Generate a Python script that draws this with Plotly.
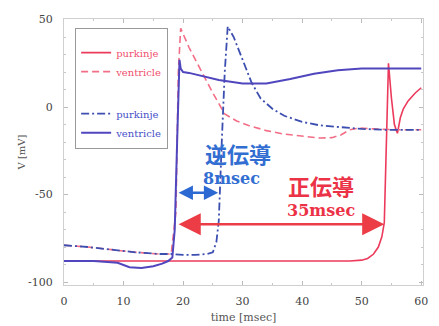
import plotly.graph_objects as go

# ---------------- data ----------------
# red group (anterograde)
rp_t = [0, 10, 20, 30, 40, 48, 50, 51, 52, 52.8, 53.4, 53.8, 54.0, 54.5, 55.0, 55.5, 56.0, 56.5, 57.0, 57.8, 59.0, 60]
rp_v = [-88, -88, -88, -88, -88, -88, -87.5, -86.5, -84, -80, -74, -66, -40, 25, 5, -10, -15, -6, -1, 3.5, 8, 11]

rv_t = [0, 4, 8, 12, 16, 18.0, 18.8, 19.2, 19.6, 21, 23, 25, 27, 29, 31, 34, 37, 40, 43, 45, 46.5, 48, 49.5, 52, 56, 60]
rv_v = [-79, -80, -81.5, -83, -84, -84, -60, 20, 45, 34, 21, 8, -4, -8, -10.5, -13.5, -15.5, -16.8, -17.7, -17.5, -16, -13, -12, -12.5, -13, -13]

# blue group (retrograde)
bp_t = [0, 4, 8, 12, 16, 18, 20, 22, 24, 25.0, 25.6, 26.0, 26.5, 27.0, 27.5, 28.5, 30, 31.5, 33, 35, 37, 40, 43, 46, 50, 54, 60]
bp_v = [-79, -80, -81.5, -83, -84, -84, -84.5, -84.5, -84, -83, -77, -65, -20, 20, 46, 40, 27, 14, 5, -1, -5, -8.5, -10.5, -11.5, -12.5, -13, -13]

bv_t = [0, 5, 9, 11, 13, 15, 16.5, 17.5, 18.2, 18.6, 19.0, 19.4, 19.6, 20, 21, 23, 26, 30, 34, 38, 42, 46, 50, 54, 60]
bv_v = [-88, -88, -89, -91.5, -92, -91, -89.5, -88, -86, -70, -20, 27, 22, 20, 19.5, 18, 15.5, 13.5, 13.5, 16, 19, 21, 22, 22, 22]

# conduction-time markers
retro_t = [19.0, 25.9]
retro_v = -49
antero_t = [19.0, 53.8]
antero_v = -67

x_ticks = [0, 10, 20, 30, 40, 50, 60]
y_ticks = [50, 0, -50, -100]
y_ticklabels = ["50", "0", "-50", "-100"]

RED = "rgb(236,58,92)"
PINK = "rgb(242,110,135)"
NAVY = "rgb(60,78,175)"
PURPLE = "rgb(80,70,190)"
BLUE_TXT = "rgb(50,110,210)"
RED_TXT = "rgb(236,50,70)"

fig = go.Figure()
fig.add_trace(go.Scatter(x=rp_t, y=rp_v, mode="lines", line=dict(color=RED, width=1.6),
                         name="<span style='color:rgb(240,80,110)'>purkinje</span>", legendgroup="a"))
fig.add_trace(go.Scatter(x=rv_t, y=rv_v, mode="lines", line=dict(color=PINK, width=1.6, dash="7px,4px"),
                         name="<span style='color:rgb(240,80,110)'>ventricle</span>", legendgroup="a"))
fig.add_trace(go.Scatter(x=bp_t, y=bp_v, mode="lines", line=dict(color=NAVY, width=1.8, dash="8px,3px,2px,3px"),
                         name="<span style='color:rgb(70,80,200)'>purkinje</span>", legendgroup="b"))
fig.add_trace(go.Scatter(x=bv_t, y=bv_v, mode="lines", line=dict(color=PURPLE, width=2),
                         name="<span style='color:rgb(70,80,200)'>ventricle</span>", legendgroup="b"))

# arrows
fig.add_annotation(x=retro_t[1], y=retro_v, ax=retro_t[0], ay=retro_v, axref="x", ayref="y",
                   xref="x", yref="y", text="", showarrow=True, arrowside="end+start",
                   arrowhead=2, arrowsize=1.1, arrowwidth=2.6, arrowcolor="rgb(45,105,210)", standoff=0, startstandoff=0)
fig.add_annotation(x=antero_t[1], y=antero_v, ax=antero_t[0], ay=antero_v, axref="x", ayref="y",
                   xref="x", yref="y", text="", showarrow=True, arrowside="end+start",
                   arrowhead=2, arrowsize=1.7, arrowwidth=2.6, arrowcolor="rgb(236,60,70)", standoff=0, startstandoff=0)

cjk = "Noto Sans CJK JP"
fig.add_annotation(x=29.3, y=-26.4, text="<b>逆伝導</b>", showarrow=False,
                   font=dict(family=cjk, size=22, color=BLUE_TXT))
fig.add_annotation(x=28.2, y=-40.8, text="<b>8msec</b>", showarrow=False,
                   font=dict(family="DejaVu Serif", size=16, color=BLUE_TXT))
fig.add_annotation(x=43.2, y=-44.3, text="<b>正伝導</b>", showarrow=False,
                   font=dict(family=cjk, size=22, color=RED_TXT))
fig.add_annotation(x=43.2, y=-59.2, text="<b>35msec</b>", showarrow=False,
                   font=dict(family="DejaVu Serif", size=16, color=RED_TXT))

axis_common = dict(showline=True, linecolor="#cfcfcf", linewidth=1, mirror="ticks",
                   ticks="inside", ticklen=4, tickcolor="#bbbbbb", showgrid=False, zeroline=False,
                   automargin=False,
                   tickfont=dict(family="DejaVu Serif", size=11, color="#444"),
                   minor=dict(ticks="inside", ticklen=2, tickcolor="#c8c8c8"))

fig.update_xaxes(range=[0, 60.3], tickvals=x_ticks, ticklabelstandoff=6,
                 title=dict(text="time [msec]", font=dict(family="DejaVu Serif", size=11, color="#555"), standoff=6),
                 **axis_common)
fig.update_yaxes(range=[-101.7, 50.3], tickvals=y_ticks, ticktext=y_ticklabels, ticklabelstandoff=8,
                 title=dict(text="V [mV]", font=dict(family="DejaVu Serif", size=10, color="#555"), standoff=0),
                 **axis_common)

fig.update_layout(
    width=439, height=326,
    margin=dict(l=64, r=16, t=19, b=41, autoexpand=False),
    paper_bgcolor="white", plot_bgcolor="white",
    showlegend=True,
    legend=dict(x=0.031, y=0.966, xanchor="left", yanchor="top",
                bordercolor="#999", borderwidth=1, bgcolor="white",
                title=dict(text="&nbsp;", font=dict(size=7)),
                font=dict(family="DejaVu Serif", size=10), traceorder="grouped",
                tracegroupgap=23, itemwidth=30),
)

fig.write_html("out.html", config={"displayModeBar": False},
               post_script="document.body.style.margin='0';document.body.style.padding='0';")
